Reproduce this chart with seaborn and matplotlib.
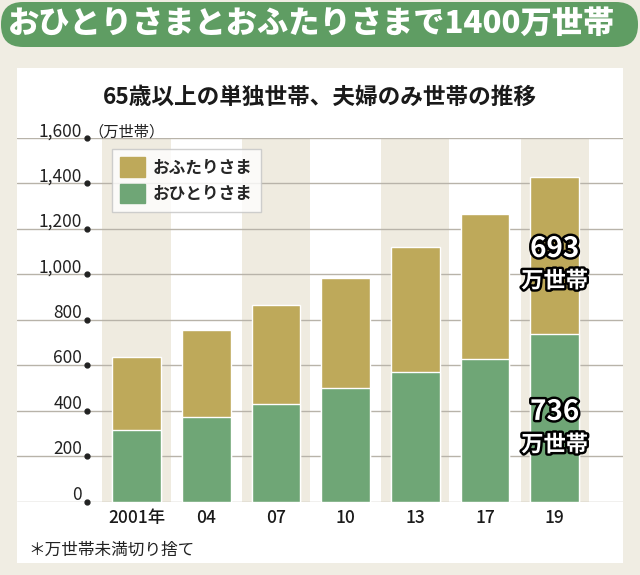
import numpy as np
import pandas as pd
import seaborn as sns
import matplotlib.pyplot as plt
from matplotlib.patches import Rectangle, FancyBboxPatch
import matplotlib.patheffects as pe

# データ（万世帯）
years = ['2001年', '04', '07', '10', '13', '17', '19']
single = [317, 372, 432, 500, 572, 627, 736]   # おひとりさま
couple = [321, 383, 433, 483, 547, 638, 693]   # おふたりさま
yticks = [0, 200, 400, 600, 800, 1000, 1200, 1400, 1600]

GREEN = '#6fa676'
OLIVE = '#bea95a'
BANNER = '#5f9d63'
CREAM = '#f0ede3'
STRIPE = '#efebe0'

sns.set_theme(style='white')
plt.rcParams['font.family'] = ['Noto Sans CJK JP', 'DejaVu Sans']

df = pd.DataFrame({'year': years, 'single': single, 'couple': couple})
df['total'] = df['single'] + df['couple']

fig = plt.figure(figsize=(6.4, 5.75), dpi=100, facecolor=CREAM)

# 白いパネルと見出しの帯
fig.patches.append(Rectangle((17 / 640, 12 / 575), 606 / 640, 495 / 575,
                             transform=fig.transFigure, facecolor='white',
                             edgecolor='none', zorder=-2))
fig.patches.append(FancyBboxPatch((0.01, 5.28), 6.37, 0.45,
                                  boxstyle='round,pad=0,rounding_size=0.22',
                                  transform=fig.dpi_scale_trans,
                                  facecolor=BANNER, edgecolor='none', zorder=-1))
fig.text(0.486, 1 - 23 / 575, 'おひとりさまとおふたりさまで1400万世帯',
         ha='center', va='center', color='white', fontsize=22.5, fontweight='black')
fig.text(0.5, 1 - 97 / 575, '65歳以上の単独世帯、夫婦のみ世帯の推移',
         ha='center', va='center', color='#1a1a1a', fontsize=16.3, fontweight='bold')
fig.text(28 / 640, 1 - 550 / 575, '＊万世帯未満切り捨て',
         ha='left', va='center', color='#222', fontsize=12)

ax = fig.add_axes([17 / 640, 73.3 / 575, 606 / 640, 363.7 / 575])
ax.set_facecolor('none')

# 積み上げ棒
sns.barplot(data=df, x='year', y='total', color=OLIVE, width=0.7,
            saturation=1, ax=ax, zorder=2)
sns.barplot(data=df, x='year', y='single', color=GREEN, width=0.7,
            saturation=1, ax=ax, zorder=2)

# 縞模様の背景
for i in range(0, len(years), 2):
    ax.axvspan(i - 0.49, i + 0.49, color=STRIPE, zorder=0.2, lw=0)

ax.set_xlim(-1.715, 6.98)
ax.set_ylim(0, 1600)
ax.set_yticks(yticks)
ax.set_yticklabels([])
ax.grid(axis='y', color='#b8b3a9', lw=1)
ax.set_axisbelow(True)
for s in ax.spines.values():
    s.set_visible(False)
ax.set_xlabel('')
ax.set_ylabel('')
ax.tick_params(axis='x', length=0, pad=5, labelsize=12.5, labelcolor='#1a1a1a')
for t in ax.get_xticklabels():
    t.set_fontweight('medium')
ax.tick_params(axis='y', length=0)

# y軸ラベル（線の上に置く）
for v in yticks:
    ax.text(-0.78, v + 8, f'{v:,}', ha='right', va='baseline',
            fontsize=12.5, color='#222')
ax.plot([-0.71] * len(yticks), yticks, 'o', ms=3.5, color='#222',
        clip_on=False, zorder=3)
ax.text(-0.69, 1608, '（万世帯）', ha='left', va='baseline', fontsize=11, color='#222')

# 凡例
handles = [Rectangle((0, 0), 1, 1, color=OLIVE), Rectangle((0, 0), 1, 1, color=GREEN)]
leg = ax.legend(handles, ['おふたりさま', 'おひとりさま'], loc='upper left',
                bbox_to_anchor=(0.157, 0.97), borderaxespad=0, frameon=True,
                fancybox=False, edgecolor='#c4c4c4', handlelength=1.45,
                handleheight=1.45, handletextpad=0.5, labelspacing=0.4,
                borderpad=0.5, prop={'size': 12, 'weight': 'bold'})
leg.get_frame().set_linewidth(1)

# 19年の値
stroke = [pe.withStroke(linewidth=3.5, foreground='black')]
for y, s, size in [(1112, '693', 20), (971, '万世帯', 16),
                   (395, '736', 20), (250, '万世帯', 16)]:
    ax.text(6, y, s, ha='center', va='center', fontsize=size,
            fontweight='bold', color='white', path_effects=stroke, zorder=5)

fig.savefig('out.png', dpi=100, facecolor=CREAM)
